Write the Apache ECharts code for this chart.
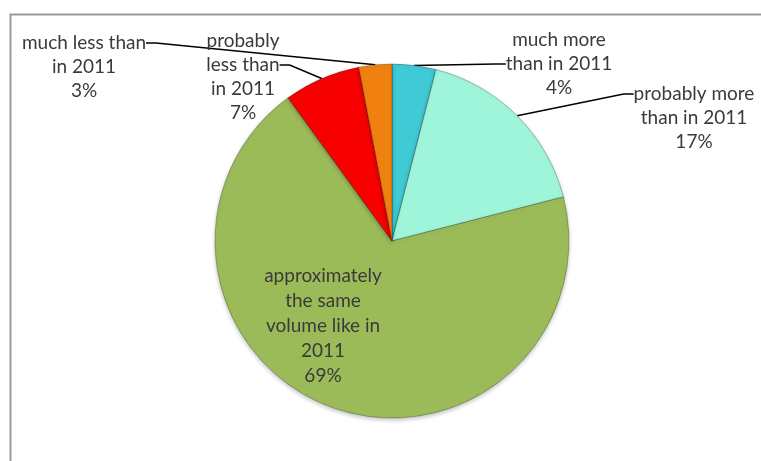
<!DOCTYPE html>
<html>
<head>
<meta charset="utf-8">
<script src="https://cdn.jsdelivr.net/npm/echarts@6/dist/echarts.min.js"></script>
<style>
  html, body { margin: 0; padding: 0; background: #fff; }
  #main { width: 761px; height: 461px; }
</style>
</head>
<body>
<div id="main"></div>
<script>
// answers, clockwise from the top
const categories = [
  'much more\nthan in 2011',
  'probably more\nthan in 2011',
  'approximately\nthe same\nvolume like in\n2011',
  'probably\nless than\nin 2011',
  'much less than\nin 2011'
]
const values = [4, 17, 69, 7, 3]
const colors = ['#3fcad5', '#9ff5d9', '#9bbb59', '#f60000', '#f08010']

// label placement: x = centre of text, y = the text line the leader meets
const labelPos = [
  [559, 64],
  [694, 94],
  [323, 326],
  [243, 65],
  [84, 43]
]
// empty lines put above a label so its middle is the line the leader meets
const labelLead = [0, 2, 0, 1, 2]

const chart = echarts.init(document.getElementById('main'), null, { renderer: 'canvas' })

const option = {
  backgroundColor: '#fff',
  animation: false,
  graphic: [{
    type: 'rect',
    shape: { x: 10.5, y: 14.5, width: 800, height: 500 },
    style: { fill: 'none', stroke: '#9a9a9a', lineWidth: 2 },
    z: 0
  }],
  series: [{
    type: 'pie',
    center: [392, 241],
    radius: 177,
    startAngle: 90,
    clockwise: true,
    data: categories.map((name, i) => ({
      name: name,
      value: values[i],
      itemStyle: { color: colors[i] },
      label: i === 2 ? { position: 'inside', lineHeight: 25 } : {},
      labelLine: i === 2 ? { show: false } : {}
    })),
    itemStyle: {
      borderColor: 'rgba(0,0,0,0.25)',
      borderWidth: 1,
      shadowColor: 'rgba(0,0,0,0.25)',
      shadowBlur: 4,
      shadowOffsetY: 2
    },
    label: {
      show: true,
      position: 'outside',
      formatter: p => '\n'.repeat(labelLead[p.dataIndex]) + p.name + '\n' + p.value + '%',
      fontFamily: 'Lato',
      fontSize: 19,
      lineHeight: 24,
      color: '#3a3a3a',
      align: 'center'
    },
    labelLine: {
      show: true,
      length: 10,
      length2: 10,
      lineStyle: { color: '#000', width: 1.5 }
    },
    labelLayout: function (params) {
      const pos = labelPos[params.dataIndex]
      return {
        x: pos[0],
        y: pos[1],
        align: 'center',
        verticalAlign: 'middle'
      }
    },
    emphasis: { disabled: true }
  }]
}

chart.setOption(option)
</script>
</body>
</html>
